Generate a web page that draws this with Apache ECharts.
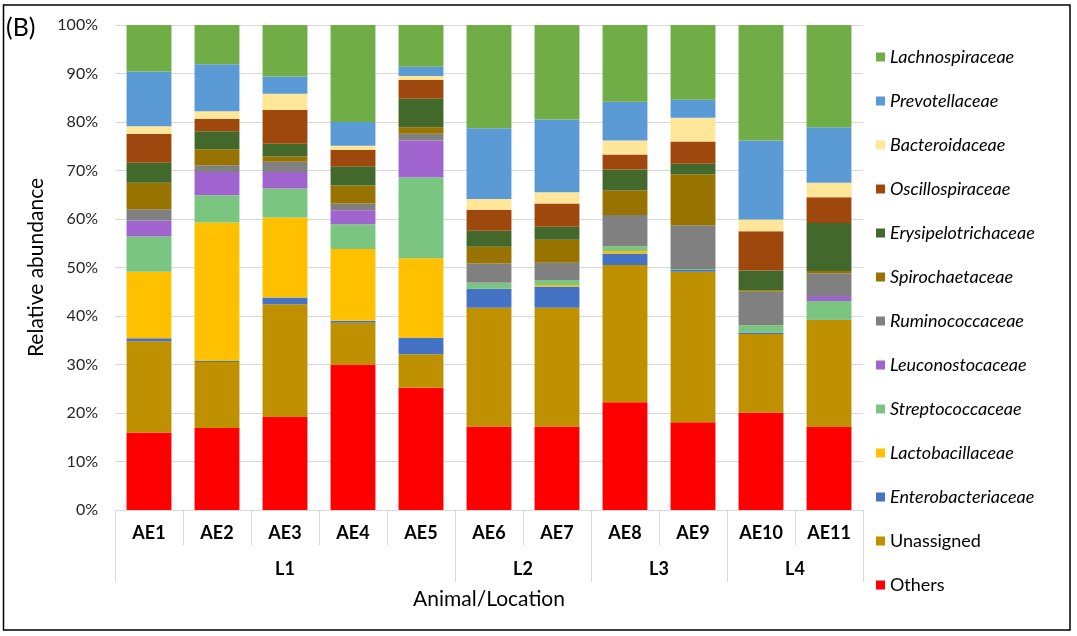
<!DOCTYPE html>
<html>
<head>
<meta charset="utf-8">
<script src="https://cdn.jsdelivr.net/npm/echarts@6/dist/echarts.min.js"></script>
<style>
html,body{margin:0;padding:0;background:#fff;}
#chart{width:1077px;height:636px;}
</style>
</head>
<body>
<div id="chart"></div>
<script>
const categories = ['AE1','AE2','AE3','AE4','AE5','AE6','AE7','AE8','AE9','AE10','AE11'];
const groupLabels = ['L1','L2','L3','L4'];
const groupSizes = [5,2,2,2];
const yTicks = [0,10,20,30,40,50,60,70,80,90,100];

const others       = [16.0,16.9,19.2,29.9,25.2,17.2,17.2,22.2,18.1,20.1,17.1];
const unassigned   = [18.8,13.6,23.2, 8.7, 6.9,24.5,24.5,28.3,31.0,16.2,22.1];
const entero       = [ 0.6, 0.2, 1.4, 0.4, 3.4, 3.9, 4.4, 2.4, 0.4, 0.3, 0.1];
const lacto        = [13.7,28.6,16.5,14.8,16.4, 0.0, 0.3, 0.5, 0.0, 0.0, 0.0];
const strepto      = [ 7.3, 5.6, 6.0, 5.1,16.7, 1.2, 1.0, 1.0, 0.2, 1.5, 3.8];
const leucono      = [ 3.3, 4.8, 3.4, 2.9, 7.6, 0.1, 0.0, 0.0, 0.0, 0.0, 1.0];
const rumino       = [ 2.3, 1.4, 2.1, 1.4, 1.4, 3.9, 3.6, 6.4, 9.0, 6.9, 4.7];
const spiro        = [ 5.5, 3.3, 1.1, 3.7, 1.3, 3.5, 4.7, 5.1,10.5, 0.3, 0.5];
const erysip       = [ 4.1, 3.7, 2.6, 4.0, 5.9, 3.3, 2.7, 4.3, 2.2, 4.1, 9.9];
const oscillo      = [ 6.0, 2.5, 7.0, 3.4, 3.9, 4.3, 4.8, 3.1, 4.6, 8.1, 5.3];
const bactero      = [ 1.5, 1.6, 3.3, 0.8, 0.8, 2.2, 2.3, 2.9, 4.9, 2.4, 3.0];
const prevo        = [11.3, 9.7, 3.6, 4.9, 1.9,14.6,15.0, 8.0, 3.7,16.3,11.4];
const lachno       = [ 9.6, 8.2,10.6,20.0, 8.6,21.3,19.5,15.8,15.4,23.8,21.1];

const seriesDefs = [
  {name:'Others', data:others, color:'#FF0000', italic:false},
  {name:'Unassigned', data:unassigned, color:'#BF9000', italic:false},
  {name:'Enterobacteriaceae', data:entero, color:'#4472C4', italic:true},
  {name:'Lactobacillaceae', data:lacto, color:'#FFC000', italic:true},
  {name:'Streptococcaceae', data:strepto, color:'#7AC57F', italic:true},
  {name:'Leuconostocaceae', data:leucono, color:'#A064CF', italic:true},
  {name:'Ruminococcaceae', data:rumino, color:'#808080', italic:true},
  {name:'Spirochaetaceae', data:spiro, color:'#997300', italic:true},
  {name:'Erysipelotrichaceae', data:erysip, color:'#43682B', italic:true},
  {name:'Oscillospiraceae', data:oscillo, color:'#9E480E', italic:true},
  {name:'Bacteroidaceae', data:bactero, color:'#FFE699', italic:true},
  {name:'Prevotellaceae', data:prevo, color:'#5B9BD5', italic:true},
  {name:'Lachnospiraceae', data:lachno, color:'#70AD47', italic:true}
];

const groupBounds = [0];
groupSizes.forEach(s => groupBounds.push(groupBounds[groupBounds.length-1] + s));
const groupCenters = groupSizes.map((s,i) => groupBounds[i] + s/2);

const FONT = 'Lato, "Noto Sans", sans-serif';
const chart = echarts.init(document.getElementById('chart'));

chart.setOption({
  backgroundColor:'#fff',
  animation:false,
  textStyle:{fontFamily:FONT},
  graphic:[
    {type:'rect', shape:{x:3.5,y:5,width:1066.5,height:625}, style:{fill:'none', stroke:'#000', lineWidth:1.5}, silent:true},
    {type:'text', left:6, top:15, style:{text:'(B)', fontSize:25, fontFamily:'Lato, "Noto Sans", sans-serif', fill:'#000'}}
  ],
  legend:{
    orient:'vertical',
    left:876, top:47, padding:0,
    itemWidth:9, itemHeight:9, itemGap:24,
    icon:'rect',
    textStyle:{fontSize:18, lineHeight:20, color:'#000', fontFamily:FONT},
    data: seriesDefs.slice().reverse().map(d => ({name:d.name, textStyle:{fontStyle: d.italic ? 'italic' : 'normal'}}))
  },
  grid:{left:115, right:214, top:25, bottom:126, containLabel:false},
  xAxis:[
    {
      type:'category', data:categories, position:'bottom',
      axisLine:{show:true, lineStyle:{color:'#d9d9d9', width:1}},
      axisTick:{show:true, length:35, lineStyle:{color:'#d9d9d9'}},
      axisLabel:{fontSize:18, fontWeight:'bold', color:'#000', margin:14, fontFamily:FONT}
    },
    {
      type:'value', min:0, max:categories.length, position:'bottom', offset:72,
      axisLine:{show:false},
      splitLine:{show:false},
      axisTick:{show:true, inside:true, length:72, customValues:groupBounds, lineStyle:{color:'#d9d9d9'}},
      axisLabel:{show:true, inside:true, margin:4, customValues:groupCenters, fontSize:18, fontWeight:'bold', color:'#000', fontFamily:FONT,
        formatter:(v)=>{ const i = groupCenters.indexOf(v); return i>=0 ? groupLabels[i] : ''; }},
      name:'Animal/Location', nameLocation:'middle', nameGap:7,
      nameTextStyle:{fontSize:21, color:'#000', fontFamily:FONT, verticalAlign:'top'}
    }
  ],
  yAxis:{
    type:'value', min:yTicks[0], max:yTicks[yTicks.length-1], interval:10,
    axisLine:{show:false}, axisTick:{show:false},
    splitLine:{lineStyle:{color:'#d9d9d9'}},
    axisLabel:{formatter:'{value}%', fontSize:16, color:'#262626', margin:17, fontFamily:FONT},
    name:'Relative abundance', nameLocation:'middle', nameGap:67,
    nameTextStyle:{fontSize:21, color:'#000', fontFamily:FONT}
  },
  series: seriesDefs.map(d => ({
    name:d.name, type:'bar', stack:'total', data:d.data,
    barCategoryGap:'34%',
    itemStyle:{color:d.color},
    emphasis:{disabled:true}
  }))
});
</script>
</body>
</html>
